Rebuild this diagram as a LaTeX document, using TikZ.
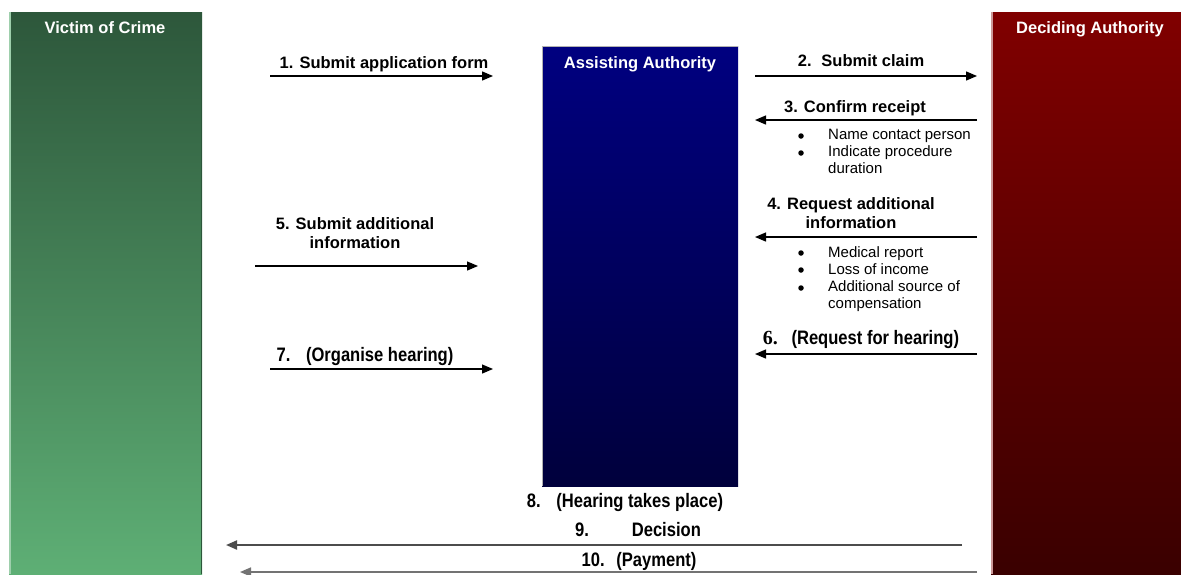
\documentclass[tikz,border=0pt]{standalone}
\usepackage{fontspec}
\setmainfont{Liberation Sans}
\newfontfamily\narrowfont[FakeStretch=0.85]{Liberation Sans}
\newfontfamily\seriffont{Liberation Serif}
\usetikzlibrary{arrows.meta}
\definecolor{vtop}{HTML}{2D573B}
\definecolor{vbot}{HTML}{5EAF75}
\definecolor{atop}{HTML}{000080}
\definecolor{abot}{HTML}{00003C}
\definecolor{dtop}{HTML}{800000}
\definecolor{dbot}{HTML}{3A0000}
\tikzset{
  title/.style={text=white,font=\fontsize{16.5}{19}\selectfont\bfseries,inner sep=0pt,anchor=base},
  lbl/.style={font=\fontsize{16.5}{19}\selectfont\bfseries,inner sep=0pt,anchor=base},
  lbltwo/.style={font=\fontsize{16.5}{19}\selectfont\bfseries,inner sep=0pt,anchor=north,align=center},
  nlbl/.style={font=\narrowfont\fontsize{19.5}{22}\selectfont\bfseries,inner sep=0pt,anchor=base},
  blt/.style={circle,fill=black,inner sep=0pt,minimum size=5.5pt},
  btxt/.style={font=\fontsize{15}{17}\selectfont,inner sep=0pt,anchor=north west,align=left},
  flow/.style={line width=1.3pt,draw=black,-{Triangle[length=11pt,width=9pt]}},
}
\begin{document}
\begin{tikzpicture}[x=1pt,y=-1pt]
\useasboundingbox (0,0) rectangle (1181,574);
\fill[white] (0,0) rectangle (1181,574);
% columns
\shade[top color=vtop,bottom color=vbot] (9,12) rectangle (202,574);
\draw[line width=1.5pt,color=vbot!60!white] (9.75,12) -- (9.75,574);
\draw[line width=1.5pt,color=vtop] (201.25,12) -- (201.25,574);
\shade[top color=atop,bottom color=abot] (542,46) rectangle (738,486);
\draw[line width=1pt,color=gray!60] (542.5,486) -- (542.5,46.5) -- (738,46.5);
\shade[top color=dtop,bottom color=dbot] (991,12) rectangle (1181,574);
\draw[line width=1.5pt,color=dtop!40!white] (991.75,12) -- (991.75,574);
\node[title] (victim) at (105,33) {Victim of Crime};
\node[title] (assist) at (640,68) {Assisting Authority};
\node[title] (decide) at (1090,33) {Deciding Authority};
% coordinates for arrows
\coordinate (a1s) at (270,76);  \coordinate (a1e) at (493,76);
\coordinate (a2s) at (755,76);  \coordinate (a2e) at (977,76);
\coordinate (a3s) at (977,120); \coordinate (a3e) at (755,120);
\coordinate (a4s) at (977,237); \coordinate (a4e) at (755,237);
\coordinate (a5s) at (255,266); \coordinate (a5e) at (478,266);
\coordinate (a6s) at (977,354); \coordinate (a6e) at (755,354);
\coordinate (a7s) at (270,369); \coordinate (a7e) at (493,369);
\coordinate (a9s) at (962,545); \coordinate (a9e) at (226,545);
\coordinate (a10s) at (977,572); \coordinate (a10e) at (240,572);
\draw[flow] (a1s) -- (a1e);
\draw[flow] (a2s) -- (a2e);
\draw[flow] (a3s) -- (a3e);
\draw[flow] (a4s) -- (a4e);
\draw[flow] (a5s) -- (a5e);
\draw[flow] (a6s) -- (a6e);
\draw[flow] (a7s) -- (a7e);
\draw[flow,line width=2pt,draw=black!70] (a9s) -- (a9e);
\draw[flow,line width=1.6pt,draw=black!55] (a10s) -- (a10e);
% labels
\node[lbl] (l1) at (384,68) {1. Submit application form};
\node[lbl] (l2) at (861,66) {2.\hspace{0.6em}Submit claim};
\node[lbl] (l3) at (855,112) {3. Confirm receipt};
\node[blt] (b31) at (801,136) {};
\node[blt] (b32) at (801,153) {};
\node[btxt] (t3) at (828,129) {Name contact person\\Indicate procedure\\duration};
\node[lbltwo] (l4) at (851,197) {4. Request additional\\information};
\node[blt] (b41) at (801,253) {};
\node[blt] (b42) at (801,270) {};
\node[blt] (b43) at (801,288) {};
\node[btxt] (t4) at (828,246) {Medical report\\Loss of income\\Additional source of\\compensation};
\node[lbltwo] (l5) at (355,217) {5. Submit additional\\information};
\node[nlbl] (l6) at (861,344) {{\seriffont\fontsize{20}{22}\selectfont\bfseries 6.}\hspace{0.7em}(Request for hearing)};
\node[nlbl] (l7) at (365,361) {7.\hspace{0.8em}(Organise hearing)};
\node[nlbl] (l8) at (625,507) {8.\hspace{0.8em}(Hearing takes place)};
\node[nlbl] (l9) at (638,536) {9.\hspace{2.2em}Decision};
\node[nlbl] (l10) at (639,566) {10.\hspace{0.6em}(Payment)};
\end{tikzpicture}
\end{document}
